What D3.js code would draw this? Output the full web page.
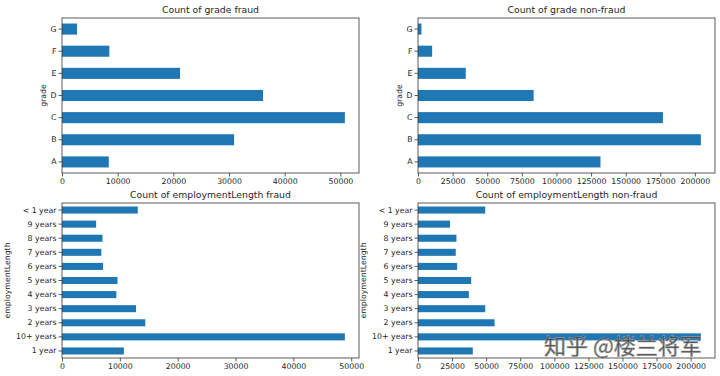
<!DOCTYPE html>
<html>
<head>
<meta charset="UTF-8">
<title>Count of grade / employmentLength</title>
<script src="https://d3js.org/d3.v7.min.js"></script>
<style>
  body { margin: 0; background: #fff; }
  svg text { font-family: "DejaVu Sans", sans-serif; fill: #262626; }
  .tick line, .domain { stroke: #333; }
</style>
</head>
<body>
<svg id="chart" width="720" height="376"></svg>
<script>
// categories, bottom to top (pandas barh order)
const grades = ["A", "B", "C", "D", "E", "F", "G"];
const gradeFraud = [8400, 30900, 50800, 36100, 21200, 8500, 2700];
const gradeNonFraud = [131800, 204300, 176900, 83500, 34500, 10200, 2500];

const empLengths = ["1 year", "10+ years", "2 years", "3 years", "4 years", "5 years",
  "6 years", "7 years", "8 years", "9 years", "< 1 year"];
const empFraud = [10700, 48900, 14400, 12800, 9400, 9600, 7100, 6800, 7000, 5900, 13100];
const empNonFraud = [40200, 207500, 56200, 49300, 37300, 39000, 28700, 27700, 28200, 23500, 49300];

const ticksFraud = [0, 10000, 20000, 30000, 40000, 50000];
const ticksGradeNon = [0, 25000, 50000, 75000, 100000, 125000, 150000, 175000, 200000];
const ticksEmpNon = [0, 25000, 50000, 75000, 100000, 125000, 150000, 175000, 200000];

const svg = d3.select("#chart");
const barColor = "#1f77b4";

function drawPanel(p) {
  const g = svg.append("g").attr("transform", `translate(${p.left},${p.top})`);
  const data = p.cats.map((c, i) => ({ cat: c, value: p.values[i] }));

  const x = d3.scaleLinear()
    .domain([0, d3.max(p.values) * 1.05])
    .range([0, p.width]);
  const y = d3.scaleBand()
    .domain(p.cats.slice().reverse())
    .range([0, p.height])
    .paddingInner(0.5)
    .paddingOuter(0.25);

  g.selectAll(".bar")
    .data(data)
    .enter()
    .append("rect")
    .attr("class", "bar")
    .attr("x", 0)
    .attr("y", d => y(d.cat))
    .attr("width", d => x(d.value))
    .attr("height", y.bandwidth())
    .attr("fill", barColor);

  const xAxis = g.append("g")
    .attr("transform", `translate(0,${p.height})`)
    .call(d3.axisBottom(x).tickValues(p.ticks).tickFormat(d3.format("d")).tickSize(3.5).tickPadding(2));
  const yAxis = g.append("g")
    .call(d3.axisLeft(y).tickSize(3.5).tickPadding(2));
  [xAxis, yAxis].forEach(a => {
    a.select(".domain").remove();
    a.selectAll("text").style("font-size", "7.8px").attr("fill", "#262626");
    a.selectAll("line").attr("stroke", "#333").attr("stroke-width", 0.8);
  });

  g.append("rect")
    .attr("width", p.width)
    .attr("height", p.height)
    .attr("fill", "none")
    .attr("stroke", "#333")
    .attr("stroke-width", 0.8);

  g.append("text")
    .attr("x", p.width / 2)
    .attr("y", -5)
    .attr("text-anchor", "middle")
    .style("font-size", "9.3px")
    .text(p.title);

  g.append("text")
    .attr("transform", `translate(${p.ylabelX},${p.height / 2}) rotate(-90)`)
    .attr("text-anchor", "middle")
    .style("font-size", "7.8px")
    .text(p.ylabel);
}

drawPanel({ left: 62, top: 18, width: 297, height: 155, cats: grades, values: gradeFraud,
  ticks: ticksFraud, title: "Count of grade fraud", ylabel: "grade", ylabelX: -16 });
drawPanel({ left: 418, top: 18, width: 297, height: 155, cats: grades, values: gradeNonFraud,
  ticks: ticksGradeNon, title: "Count of grade non-fraud", ylabel: "grade", ylabelX: -16 });
drawPanel({ left: 62, top: 203, width: 297, height: 155, cats: empLengths, values: empFraud,
  ticks: ticksFraud, title: "Count of employmentLength fraud", ylabel: "employmentLength", ylabelX: -52 });
drawPanel({ left: 418, top: 203, width: 297, height: 155, cats: empLengths, values: empNonFraud,
  ticks: ticksEmpNon, title: "Count of employmentLength non-fraud", ylabel: "employmentLength", ylabelX: -52 });

// watermark
svg.append("text")
  .attr("x", 544)
  .attr("y", 354)
  .style("font-family", "'Noto Sans CJK SC', sans-serif")
  .style("font-size", "22px")
  .attr("fill", "#ffffff")
  .attr("fill-opacity", 0.85)
  .attr("stroke", "#9a9a9a")
  .attr("stroke-width", 0.7)
  .text("知乎 @楼兰将军");
</script>
</body>
</html>
